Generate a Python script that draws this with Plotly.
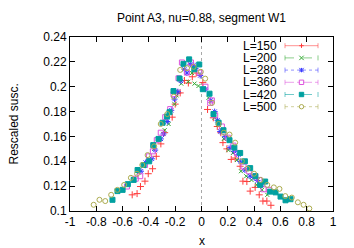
import plotly.graph_objects as go

# ---------------- data ----------------
x_L150 = [-0.527, -0.49, -0.464, -0.43, -0.405, -0.372, -0.344, -0.309, -0.28, -0.223, -0.20, -0.18,
          -0.162, -0.13, -0.10, -0.07, -0.04, 0.01, 0.046, 0.09, 0.12, 0.147, 0.163, 0.193, 0.226,
          0.256, 0.294, 0.315, 0.345, 0.37, 0.408, 0.439, 0.467, 0.497, 0.528]
y_L150 = [0.113, 0.114, 0.1197, 0.124, 0.130, 0.134, 0.144, 0.154, 0.163, 0.1755, 0.186, 0.195,
          0.195, 0.205, 0.203, 0.208, 0.211, 0.2033, 0.1817, 0.175, 0.168, 0.163, 0.155, 0.150, 0.1415,
          0.1426, 0.136, 0.124, 0.1237, 0.116, 0.119, 0.113, 0.108, 0.108, 0.1046]

x_L200 = [-0.52, -0.48, -0.445, -0.40, -0.36, -0.32, -0.28, -0.25, -0.205, -0.19, -0.154, -0.10,
          -0.073, -0.053, -0.023, 0.02, 0.053, 0.099, 0.129, 0.17, 0.205, 0.239, 0.269, 0.30,
          0.34, 0.38, 0.42, 0.46, 0.50]
y_L200 = [0.126, 0.131, 0.136, 0.142, 0.150, 0.158, 0.165, 0.170, 0.186, 0.193, 0.2025, 0.204,
          0.211, 0.2025, 0.2006, 0.198, 0.191, 0.175, 0.1696, 0.158, 0.149, 0.1467, 0.141, 0.132,
          0.128, 0.125, 0.121, 0.117, 0.113]

x_L280 = [-0.46, -0.425, -0.377, -0.352, -0.309, -0.289, -0.26, -0.23, -0.205, -0.18, -0.157, -0.13,
          -0.111, -0.085, -0.06, -0.046, -0.01, 0.03, 0.07, 0.10, 0.122, 0.142, 0.18, 0.218, 0.25,
          0.281, 0.294, 0.33, 0.37, 0.40, 0.426, 0.46]
y_L280 = [0.132, 0.139, 0.142, 0.149, 0.158, 0.162, 0.172, 0.181, 0.190, 0.196, 0.2047, 0.214,
          0.211, 0.218, 0.2173, 0.2146, 0.209, 0.198, 0.189, 0.180, 0.173, 0.164, 0.160, 0.151, 0.148,
          0.1453, 0.140, 0.133, 0.128, 0.127, 0.1245, 0.121]

x_L360 = [-0.567, -0.50, -0.466, -0.43, -0.40, -0.37, -0.34, -0.31, -0.276, -0.238, -0.213, -0.175,
          -0.149, -0.111, -0.08, -0.015, 0.03, 0.066, 0.079, 0.104, 0.155, 0.20, 0.243, 0.269, 0.32,
          0.36, 0.408, 0.44, 0.472, 0.515]
y_L360 = [0.1197, 0.126, 0.128, 0.137, 0.144, 0.148, 0.157, 0.163, 0.1755, 0.182, 0.194, 0.2068,
          0.2195, 0.2114, 0.2195, 0.2114, 0.200, 0.187, 0.189, 0.177, 0.168, 0.159, 0.1526, 0.1467, 0.1358,
          0.132, 0.128, 0.125, 0.1175, 0.117]

x_L420 = [-0.677, -0.639, -0.60, -0.56, -0.516, -0.486, -0.44, -0.398, -0.367, -0.327, -0.296, -0.263,
          -0.243, -0.213, -0.167, -0.137, -0.094, -0.055, -0.017, 0.01, 0.061, 0.091, 0.13, 0.167,
          0.213, 0.25, 0.294, 0.33, 0.37, 0.41, 0.446, 0.484, 0.522, 0.563, 0.601, 0.639, 0.677]
y_L420 = [0.109, 0.116, 0.117, 0.1216, 0.125, 0.133, 0.137, 0.140, 0.153, 0.158, 0.171, 0.176,
          0.1795, 0.1965, 0.2066, 0.2184, 0.222, 0.214, 0.2179, 0.198, 0.1944, 0.178, 0.171, 0.165,
          0.157, 0.151, 0.1467, 0.140, 0.1345, 0.128, 0.121, 0.1237, 0.1156, 0.115, 0.1116, 0.1086, 0.1095]

x_L500 = [-0.82, -0.776, -0.732, -0.687, -0.64, -0.588, -0.537, -0.49, -0.45, -0.41, -0.36, -0.31,
          -0.26, -0.21, -0.162, -0.11, -0.06, -0.005, 0.028, 0.08, 0.13, 0.17, 0.213, 0.256, 0.307,
          0.35, 0.40, 0.45, 0.50, 0.55, 0.593, 0.637, 0.687, 0.733, 0.776, 0.82]
y_L500 = [0.105, 0.109, 0.108, 0.113, 0.117, 0.121, 0.1267, 0.130, 0.137, 0.145, 0.152, 0.170,
          0.178, 0.192, 0.2135, 0.215, 0.216, 0.212, 0.2065, 0.187, 0.170, 0.163, 0.1615, 0.155, 0.140,
          0.134, 0.130, 0.125, 0.121, 0.119, 0.1178, 0.112, 0.1108, 0.107, 0.105, 0.102]

series_names = ["L=150", "L=200", "L=280", "L=360", "L=420", "L=500"]
series_x = [x_L150, x_L200, x_L280, x_L360, x_L420, x_L500]
series_y = [y_L150, y_L200, y_L280, y_L360, y_L420, y_L500]

x_tick_vals = [-1, -0.8, -0.6, -0.4, -0.2, 0, 0.2, 0.4, 0.6, 0.8, 1]
x_tick_text = ["-1", "-0.8", "-0.6", "-0.4", "-0.2", "0", "0.2", "0.4", "0.6", "0.8", "1"]
y_tick_vals = [0.1, 0.12, 0.14, 0.16, 0.18, 0.2, 0.22, 0.24]
y_tick_text = ["0.1", "0.12", "0.14", "0.16", "0.18", "0.2", "0.22", "0.24"]

# ---------------- style ----------------
colors = ["#ff3a3a", "#2ea82e", "#3a3aff", "#dd55dd", "#00a0a0", "#acac50"]
symbols = ["cross-thin-open", "x-thin-open", "asterisk-open", "square-open", "square", "circle-open"]
sizes = [5, 4, 5, 5, 5, 5]
dashes = ["solid", "dash", "dot", "dashdot", "dash", "dot"]
FONT = "Liberation Sans, Arial, sans-serif"

# the page body adds an 8px margin, so the figure is offset by (8, 8) in the window
OFF = 8
W, H = 354 - OFF, 248 - OFF
L_M, R_M, T_M, B_M = 70 - OFF, 21, 37 - OFF, 37
PW, PH = W - L_M - R_M, H - T_M - B_M

fig = go.Figure()
for name, xs, ys, c, s, sz in zip(series_names, series_x, series_y, colors, symbols, sizes):
    fig.add_trace(go.Scatter(
        x=xs, y=ys, mode="markers", name=name, showlegend=False,
        marker=dict(symbol=s, size=sz, color=c, line=dict(color=c, width=1)),
    ))

# zero line (dotted) at x=0
fig.add_shape(type="line", xref="x", yref="paper", x0=0, x1=0, y0=0, y1=1,
              line=dict(color="#a8a8a8", width=1, dash="dot"), layer="below")

# ---------------- manual gnuplot-style key (window pixel positions) ----------------
key_top_px = 45.7
key_step_px = 12.2
key_text_right_px = 278
key_sample_center_px = 301.5
half_len = 16.5
px_to_paper_x = lambda px: (px - OFF - L_M) / PW
px_to_paper_y = lambda py: (OFF + H - B_M - py) / PH

annotations = []
shapes = []
for i, (name, c, dsh) in enumerate(zip(series_names, colors, dashes)):
    py = key_top_px + i * key_step_px
    ya = px_to_paper_y(py)
    xa = px_to_paper_x(key_sample_center_px)
    annotations.append(dict(text=name, xref="paper", yref="paper",
                            x=px_to_paper_x(key_text_right_px), y=ya, borderpad=0,
                            height=12, valign="middle",
                            xanchor="right", yanchor="middle", showarrow=False,
                            font=dict(family=FONT, size=12, color="black")))
    common = dict(xref="paper", yref="paper", xsizemode="pixel", ysizemode="pixel",
                  xanchor=xa, yanchor=ya)
    shapes.append(dict(type="line", x0=-half_len, x1=half_len, y0=0, y1=0,
                       line=dict(color=c, width=1, dash=dsh), opacity=0.55, **common))
    for sx in (-half_len, half_len):
        shapes.append(dict(type="line", x0=sx, x1=sx, y0=-2.5, y1=2.5,
                           line=dict(color=c, width=1), opacity=0.55, **common))
    r = 2.2
    if i == 0:
        shapes.append(dict(type="line", x0=-r, x1=r, y0=0, y1=0, line=dict(color=c, width=1), **common))
        shapes.append(dict(type="line", x0=0, x1=0, y0=-r, y1=r, line=dict(color=c, width=1), **common))
    elif i == 1:
        shapes.append(dict(type="line", x0=-r, x1=r, y0=-r, y1=r, line=dict(color=c, width=1), **common))
        shapes.append(dict(type="line", x0=-r, x1=r, y0=r, y1=-r, line=dict(color=c, width=1), **common))
    elif i == 2:
        for (a0, b0, a1, b1) in [(-r, 0, r, 0), (0, -r, 0, r), (-r, -r, r, r), (-r, r, r, -r)]:
            shapes.append(dict(type="line", x0=a0, x1=a1, y0=b0, y1=b1, line=dict(color=c, width=1), **common))
    elif i == 3:
        shapes.append(dict(type="rect", x0=-r, x1=r, y0=-r, y1=r, line=dict(color=c, width=1), **common))
    elif i == 4:
        shapes.append(dict(type="rect", x0=-r, x1=r, y0=-r, y1=r, fillcolor=c, line=dict(color=c, width=1), **common))
    else:
        shapes.append(dict(type="circle", x0=-r, x1=r, y0=-r, y1=r, line=dict(color=c, width=1), **common))

for s in shapes:
    fig.add_shape(**s)

# axis titles placed as text at fixed pixel positions
annotations.append(dict(text="x", xref="paper", yref="paper", x=0.5,
                        y=px_to_paper_y(241), xanchor="center", yanchor="middle",
                        showarrow=False, font=dict(family=FONT, size=12, color="black")))
annotations.append(dict(text="Rescaled susc.", xref="paper", yref="paper",
                        x=px_to_paper_x(13.5), y=0.5, xanchor="center", yanchor="middle",
                        textangle=-90, showarrow=False, font=dict(family=FONT, size=12, color="black")))

axis_common = dict(showline=True, linecolor="black", linewidth=1, mirror="ticks",
                   ticks="inside", ticklen=5, tickcolor="black", showgrid=False,
                   zeroline=False, automargin=False,
                   tickfont=dict(family=FONT, size=12, color="black"))

fig.update_layout(
    width=W, height=H,
    margin=dict(l=L_M, r=R_M, t=T_M, b=B_M, autoexpand=False),
    paper_bgcolor="white", plot_bgcolor="white",
    font=dict(family=FONT, size=12, color="black"),
    title=dict(text="Point A3, nu=0.88, segment W1", x=(L_M + PW / 2) / W, xanchor="center",
               y=1 - (18 - OFF) / H, yanchor="middle", font=dict(family=FONT, size=12, color="black")),
    xaxis=dict(range=[-1, 1], tickvals=x_tick_vals, ticktext=x_tick_text, **axis_common),
    yaxis=dict(range=[0.1, 0.24], tickvals=y_tick_vals, ticktext=y_tick_text, **axis_common),
    annotations=annotations,
    showlegend=False,
)

fig.write_html("out.html")
